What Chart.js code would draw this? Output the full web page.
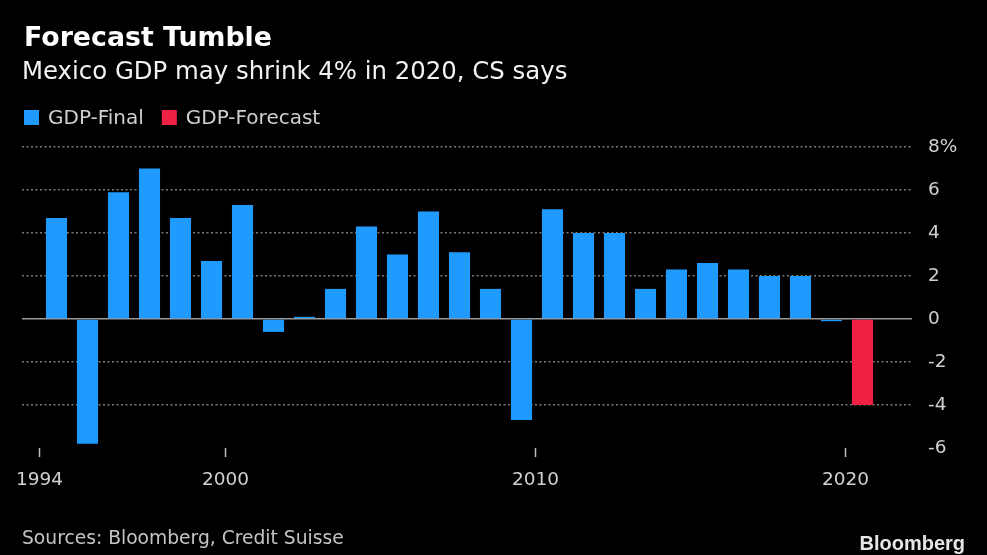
<!DOCTYPE html>
<html>
<head>
<meta charset="utf-8">
<script src="https://cdn.jsdelivr.net/npm/chart.js@4.4.1/dist/chart.umd.min.js"></script>
<style>
  html, body { margin: 0; padding: 0; background: #000; }
  #wrap { width: 987px; height: 555px; }
</style>
</head>
<body>
<div id="wrap"><canvas id="c" width="987" height="555"></canvas></div>
<script>
// ---- data ----
const finalYears = [1994,1995,1996,1997,1998,1999,2000,2001,2002,2003,2004,2005,2006,2007,2008,2009,2010,2011,2012,2013,2014,2015,2016,2017,2018,2019];
const gdpFinal   = [4.7,-5.8,5.9,7.0,4.7,2.7,5.3,-0.6,0.1,1.4,4.3,3.0,5.0,3.1,1.4,-4.7,5.1,4.0,4.0,1.4,2.3,2.6,2.3,2.0,2.0,-0.1];
const forecastYears = [2020];
const gdpForecast   = [-4.0];
const tickYears = [1994, 2000, 2010, 2020];
const yTicks = [-6, -4, -2, 0, 2, 4, 6, 8];

const titleText = 'Forecast Tumble';
const subtitleText = 'Mexico GDP may shrink 4% in 2020, CS says';
const sourceText = 'Sources: Bloomberg, Credit Suisse';
const brandText = 'Bloomberg';

const BLUE = '#1f9bff';
const RED = '#ef2245';
const FONT = '"DejaVu Sans", sans-serif';

const toPoints = (xs, ys) => xs.map((x, i) => ({ x: x, y: ys[i] }));

const headerFooter = {
  id: 'headerFooter',
  beforeDraw(chart) {
    const ctx = chart.ctx;
    ctx.save();
    ctx.fillStyle = '#000';
    ctx.fillRect(0, 0, chart.width, chart.height);
    ctx.restore();
  },
  afterDraw(chart) {
    const ctx = chart.ctx;
    ctx.save();
    ctx.textBaseline = 'alphabetic';
    ctx.textAlign = 'left';
    // title
    ctx.fillStyle = '#ffffff';
    ctx.font = 'bold 26.8px ' + FONT;
    ctx.fillText(titleText, 24, 46);
    // subtitle
    ctx.fillStyle = '#f2f2f2';
    ctx.font = '24.4px ' + FONT;
    ctx.fillText(subtitleText, 22, 79);
    // legend
    ctx.font = '20px ' + FONT;
    let x = 24;
    chart.data.datasets.forEach(ds => {
      ctx.fillStyle = ds.backgroundColor;
      ctx.fillRect(x, 110, 15, 15);
      ctx.fillStyle = '#cfcfcf';
      ctx.fillText(ds.label, x + 24, 124);
      x += 24 + ctx.measureText(ds.label).width + 18;
    });
    // source
    ctx.fillStyle = '#c4c4c4';
    ctx.font = '18.7px ' + FONT;
    ctx.fillText(sourceText, 22, 544);
    // brand
    ctx.fillStyle = '#e6e6e6';
    ctx.font = 'bold 20px "Liberation Sans", Arial, sans-serif';
    ctx.textAlign = 'right';
    ctx.fillText(brandText, 965, 550);
    ctx.restore();
  }
};

new Chart(document.getElementById('c'), {
  type: 'bar',
  data: {
    datasets: [
      { label: 'GDP-Final', data: toPoints(finalYears, gdpFinal), backgroundColor: BLUE, grouped: false },
      { label: 'GDP-Forecast', data: toPoints(forecastYears, gdpForecast), backgroundColor: RED, grouped: false }
    ]
  },
  options: {
    responsive: false,
    animation: false,
    devicePixelRatio: 1,
    layout: { padding: { top: 147, left: 22, right: 0, bottom: 62 } },
    datasets: { bar: { categoryPercentage: 1, barPercentage: 0.68, borderWidth: 0 } },
    plugins: {
      legend: { display: false },
      title: { display: false },
      tooltip: { enabled: false }
    },
    scales: {
      x: {
        type: 'linear',
        offset: false,
        min: finalYears[0] - 1.113,
        max: forecastYears[forecastYears.length - 1] + 1.597,
        afterBuildTicks: (scale) => { scale.ticks = tickYears.map(y => ({ value: y - 0.55 })); },
        afterFit: (scale) => { scale.height = 45; },
        ticks: {
          autoSkip: false, maxRotation: 0, padding: 12,
          color: '#d0d0d0', font: { family: FONT, size: 18.5 },
          callback: (v) => String(Math.round(v + 0.55))
        },
        grid: { offset: false, drawOnChartArea: false, drawTicks: true, tickLength: 9, tickColor: '#bdbdbd', tickWidth: 1.5 },
        border: { display: false }
      },
      y: {
        position: 'right',
        min: yTicks[0],
        max: yTicks[yTicks.length - 1],
        afterBuildTicks: (scale) => { scale.ticks = yTicks.map(v => ({ value: v })); },
        afterFit: (scale) => { scale.width = 75; },
        ticks: {
          padding: 16, color: '#d0d0d0', font: { family: FONT, size: 18.5 },
          callback: (v) => (v === yTicks[yTicks.length - 1] ? v + '%' : String(v))
        },
        grid: {
          drawTicks: false,
          lineWidth: 1.5,
          color: (c) => (c.tick && c.tick.value === yTicks[0]) ? 'rgba(0,0,0,0)' : (c.tick && c.tick.value === 0 ? '#9a9a9a' : '#7a7a7a')
        },
        border: {
          display: false,
          dash: (c) => (c.tick && c.tick.value === 0) ? [] : [2, 2.5]
        }
      }
    }
  },
  plugins: [headerFooter]
});
</script>
</body>
</html>
